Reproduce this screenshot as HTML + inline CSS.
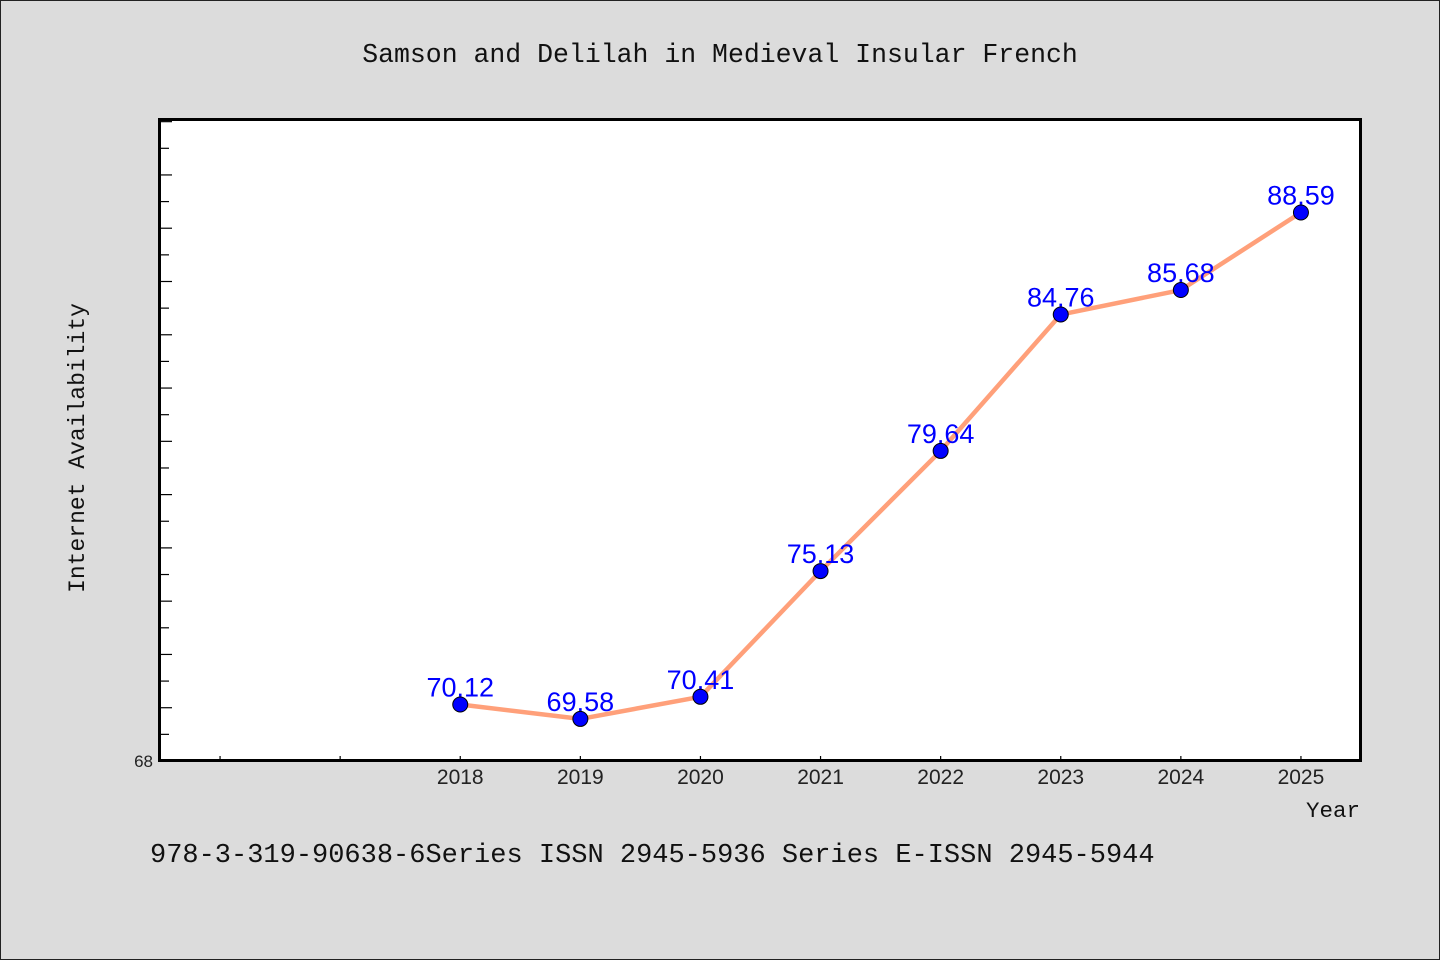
<!DOCTYPE html>
<html><head><meta charset="utf-8"><style>
html,body{margin:0;padding:0;background:#dcdcdc;}
svg{display:block;}
</style></head><body>
<svg width="1440" height="960" xmlns="http://www.w3.org/2000/svg">
<rect x="0.5" y="0.5" width="1439" height="959" fill="#dcdcdc" stroke="#222" stroke-width="1"/>
<text x="720" y="62" text-anchor="middle" font-family="'Liberation Mono', monospace" font-size="26.5" fill="#111">Samson and Delilah in Medieval Insular French</text>
<rect x="159.5" y="119.5" width="1201" height="641" fill="#fff" stroke="#000" stroke-width="3"/>
<g id="ticks"></g>
<polyline id="line" fill="none" stroke="#ffa07a" stroke-width="4.5" stroke-linejoin="round"/>
<g id="pts"></g>
<text transform="translate(84,448) rotate(-90)" text-anchor="middle" font-family="'Liberation Mono', monospace" font-size="23" fill="#111">Internet Availability</text>
<text x="1360" y="817" text-anchor="end" font-family="'Liberation Mono', monospace" font-size="22.5" fill="#111">Year</text>
<text x="150" y="862" font-family="'Liberation Mono', monospace" font-size="27" fill="#111">978-3-319-90638-6Series ISSN 2945-5936 Series E-ISSN 2945-5944</text>
</svg>
<script>
const years = [2018, 2019, 2020, 2021, 2022, 2023, 2024, 2025];
const values = [70.12, 69.58, 70.41, 75.13, 79.64, 84.76, 85.68, 88.59];
const labels = ["70.12", "69.58", "70.41", "75.13", "79.64", "84.76", "85.68", "88.59"];
const xMin = 2015.5, xMax = 2025.5, yMin = 68, yMax = 92.1;
const L = 160, R = 1361, T = 119, B = 761;
const NS = "http://www.w3.org/2000/svg";
function xs(v){return L + (v - xMin) / (xMax - xMin) * (R - L);}
function ys(v){return B - (v - yMin) / (yMax - yMin) * (B - T);}
function mk(tag, attrs, parent){const e=document.createElementNS(NS,tag);for(const k in attrs)e.setAttribute(k,attrs[k]);parent.appendChild(e);return e;}
const tg = document.getElementById('ticks');
for (let v = 68; v <= 92; v++) {
  const y = ys(v), len = (v % 2 === 0) ? 12 : 9;
  const t = mk('line', {x1:L, x2:L+len, y1:y, y2:y, stroke:'#000', 'stroke-width':1.2}, tg);
  
  
}
const yl = mk('text', {x:153, y:767, 'text-anchor':'end', 'font-family':"'Liberation Sans', sans-serif", 'font-size':17, fill:'#222'}, tg);
yl.textContent = '68';


for (let yr = 2016; yr <= 2025; yr++) {
  const x = xs(yr);
  const t = mk('line', {x1:x, x2:x, y1:B, y2:B-5, stroke:'#000', 'stroke-width':1.2}, tg);
  
  
}
years.forEach(yr => {
  const t = mk('text', {x:xs(yr), y:784, 'text-anchor':'middle', 'font-family':"'Liberation Sans', sans-serif", 'font-size':21, fill:'#222'}, tg);
  t.textContent = yr;
  
  
});
document.getElementById('line').setAttribute('points', years.map((yr,i)=>xs(yr)+','+ys(values[i])).join(' '));
const pg = document.getElementById('pts');
years.forEach((yr,i) => {
  const x = xs(yr), y = ys(values[i]);
  const lab = mk('text', {x:x, y:y-8, 'text-anchor':'middle', 'font-family':"'Liberation Sans', sans-serif", 'font-size':27, fill:'#0000ff'}, pg);
  lab.textContent = labels[i];
  
  
  const c = mk('circle', {cx:x, cy:y, r:7.5, fill:'#0000ff', stroke:'#000', 'stroke-width':1}, pg);
  
  
});
</script>
</body></html>
